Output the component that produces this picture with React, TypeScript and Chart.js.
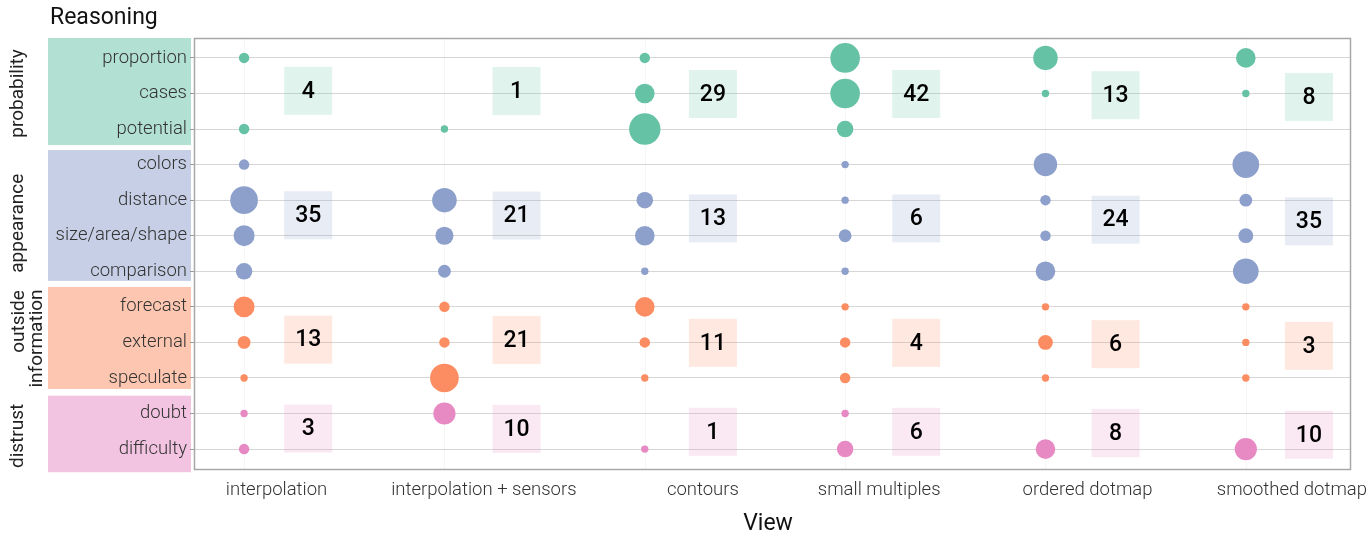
import React, { useEffect, useRef } from 'react';
import { Chart, registerables } from 'chart.js';
Chart.register(...registerables);

// ---------- data ----------
const views = ['interpolation', 'interpolation + sensors', 'contours', 'small multiples', 'ordered dotmap', 'smoothed dotmap'];
const reasons = ['proportion', 'cases', 'potential', 'colors', 'distance', 'size/area/shape', 'comparison', 'forecast', 'external', 'speculate', 'doubt', 'difficulty'];
const groupNames = ['probability', 'appearance', 'outside information', 'distrust'];
const groupRows = [[0, 1, 2], [3, 4, 5, 6], [7, 8, 9], [10, 11]];
const groupColors = ['#66c2a5', '#8da0cb', '#fc8d62', '#e78ac3'];

// mentions per reason (row order as in `reasons`) for each view
const interpolationCounts = [2, 0, 2, 2, 14, 8, 5, 8, 3, 1, 1, 2];
const sensorsCounts = [0, 0, 1, 0, 11, 6, 3, 2, 2, 15, 9, 0];
const contoursCounts = [2, 7, 18, 0, 5, 7, 1, 7, 2, 1, 0, 1];
const smallMultiplesCounts = [16, 16, 5, 1, 1, 3, 1, 1, 2, 2, 1, 5];
const orderedDotmapCounts = [11, 1, 0, 10, 2, 2, 7, 1, 4, 1, 0, 7];
const smoothedDotmapCounts = [7, 1, 0, 13, 3, 4, 12, 1, 1, 1, 0, 9];
const countsByView = [interpolationCounts, sensorsCounts, contoursCounts, smallMultiplesCounts, orderedDotmapCounts, smoothedDotmapCounts];

// group totals per view (boxes)
const probabilityTotals = [4, 1, 29, 42, 13, 8];
const appearanceTotals = [35, 21, 13, 6, 24, 35];
const outsideTotals = [13, 21, 11, 4, 6, 3];
const distrustTotals = [3, 10, 1, 6, 8, 10];
const groupTotals = [probabilityTotals, appearanceTotals, outsideTotals, distrustTotals];

// ---------- layout constants ----------
const FONT = 'Roboto';
const BUBBLE_K = 3.7;
const labelPos = [0.162, 1.197, 2.29, 3.17, 4.21, 5.23];
const boxDx = [0.32, 0.36, 0.34, 0.355, 0.35, 0.315];
const boxDy = [-0.076, -0.068, 0.013, 0.013, 0.05, 0.097];
const groupMid = [1, 4.5, 8, 10.5];
const panelBounds = [[-0.56, 2.45], [2.59, 6.27], [6.44, 9.31], [9.5, 11.65]];

function rgba(hex: string, a: number) {
  const n = parseInt(hex.slice(1), 16);
  return `rgba(${(n >> 16) & 255},${(n >> 8) & 255},${n & 255},${a})`;
}

const decorPlugin = {
  id: 'decor',
  beforeDraw(chart: any) {
    const { ctx } = chart;
    const y = chart.scales.y;
    ctx.save();
    // group panels
    panelBounds.forEach((b, i) => {
      const t = y.getPixelForValue(b[0]);
      const btm = y.getPixelForValue(b[1]);
      ctx.fillStyle = rgba(groupColors[i], 0.5);
      ctx.fillRect(48, t, 143, btm - t);
    });
    // group labels (rotated)
    ctx.fillStyle = '#222';
    ctx.font = `19px ${FONT}`;
    ctx.textBaseline = 'alphabetic';
    const drawRot = (text: string, bx: number, cy: number, align: CanvasTextAlign) => {
      ctx.save();
      ctx.translate(bx, cy);
      ctx.rotate(-Math.PI / 2);
      ctx.textAlign = align;
      ctx.fillText(text, 0, 0);
      ctx.restore();
    };
    drawRot(groupNames[0], 23, y.getPixelForValue(1.0), 'center');
    drawRot(groupNames[1], 23, y.getPixelForValue(4.65), 'center');
    const [l1, l2] = groupNames[2].split(' ');
    drawRot(l1, 24, y.getPixelForValue(6.53), 'right');
    drawRot(l2, 42, y.getPixelForValue(7.89), 'center');
    drawRot(groupNames[3], 23, y.getPixelForValue(10.63), 'center');
    // titles
    ctx.fillStyle = '#111';
    ctx.font = `23px ${FONT}`;
    ctx.textAlign = 'left';
    ctx.fillText('Reasoning', 50, 24);
    ctx.textAlign = 'center';
    ctx.fillText('View', 768, 530);
    ctx.restore();
  },
  beforeDatasetsDraw(chart: any) {
    const { ctx, chartArea } = chart;
    const x = chart.scales.x;
    const y = chart.scales.y;
    ctx.save();
    // faint vertical lines at bubble columns
    ctx.strokeStyle = 'rgba(0,0,0,0.035)';
    ctx.lineWidth = 1;
    views.forEach((_, c) => {
      const px = Math.round(x.getPixelForValue(c)) + 0.5;
      ctx.beginPath();
      ctx.moveTo(px, chartArea.top);
      ctx.lineTo(px, chartArea.bottom);
      ctx.stroke();
    });
    // total boxes
    const S = 48;
    groupTotals.forEach((totals, g) => {
      totals.forEach((v, c) => {
        const cx = x.getPixelForValue(c + boxDx[c]);
        const cy = y.getPixelForValue(groupMid[g] + boxDy[c]);
        ctx.fillStyle = rgba(groupColors[g], 0.2);
        ctx.fillRect(cx - S / 2, cy - S / 2, S, S);
        ctx.fillStyle = '#000';
        ctx.font = `500 23px ${FONT}`;
        ctx.textAlign = 'center';
        ctx.textBaseline = 'middle';
        ctx.fillText(String(v), cx, cy + 1);
      });
    });
    ctx.restore();
  },
  afterDraw(chart: any) {
    const { ctx, chartArea } = chart;
    ctx.save();
    ctx.strokeStyle = '#a8a8a8';
    ctx.lineWidth = 1.5;
    ctx.strokeRect(chartArea.left + 0.5, chartArea.top + 0.5, chartArea.right - chartArea.left, chartArea.bottom - chartArea.top);
    ctx.restore();
  },
};

export default function App() {
  const ref = useRef<HTMLCanvasElement>(null);
  useEffect(() => {
    if (!ref.current) return;
    const datasets = groupRows.map((rows, g) => ({
      label: groupNames[g],
      data: rows.flatMap((row) =>
        countsByView
          .map((counts, c) => ({ x: c, y: row, r: BUBBLE_K * Math.sqrt(counts[row]), n: counts[row] }))
          .filter((p) => p.n > 0)
      ),
      backgroundColor: groupColors[g],
      borderWidth: 0,
      hoverRadius: 0,
    }));
    const chart = new Chart(ref.current, {
      type: 'bubble',
      data: { datasets },
      options: {
        animation: false,
        responsive: false,
        events: [],
        layout: { padding: { left: 0, right: 22, top: 38, bottom: 0 } },
        plugins: { legend: { display: false }, tooltip: { enabled: false }, title: { display: false } },
        scales: {
          x: {
            type: 'linear',
            min: -0.25,
            max: 5.52,
            afterBuildTicks: (s: any) => {
              s.ticks = labelPos.map((v) => ({ value: v }));
            },
            afterFit: (s: any) => {
              s.height = 66;
              s.paddingLeft = 0;
              s.paddingRight = 0;
            },
            grid: { display: false, drawTicks: false },
            border: { display: false },
            ticks: {
              autoSkip: false,
              maxRotation: 0,
              padding: 10,
              color: '#333',
              font: { family: FONT, size: 18.5, weight: 300 },
              callback: (_v: any, i: number) => views[i],
            },
          },
          y: {
            type: 'linear',
            reverse: true,
            min: -0.56,
            max: 11.56,
            afterBuildTicks: (s: any) => {
              s.ticks = reasons.map((_, i) => ({ value: i }));
            },
            afterFit: (s: any) => {
              s.width = 194;
              s.paddingTop = 0;
              s.paddingBottom = 0;
            },
            grid: { color: '#d6d6d6', lineWidth: 1, tickLength: 4, tickColor: '#999' },
            border: { display: false },
            ticks: {
              autoSkip: false,
              padding: 3,
              color: '#333',
              font: { family: FONT, size: 18.5, weight: 300 },
              callback: (v: any) => reasons[v],
            },
          },
        },
      },
      plugins: [decorPlugin],
    });
    return () => chart.destroy();
  }, []);
  return (
    <div style={{ position: 'fixed', left: 0, top: 0, width: 1372, height: 535, background: '#fff' }}>
      <canvas ref={ref} width={1372} height={535} style={{ display: 'block' }} />
    </div>
  );
}
